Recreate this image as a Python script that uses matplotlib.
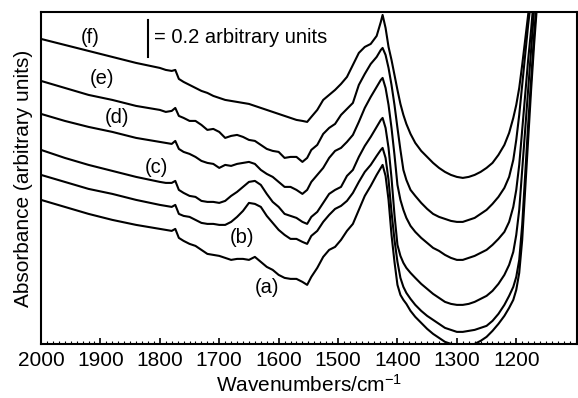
import matplotlib
matplotlib.use("Agg")
import matplotlib.pyplot as plt
from matplotlib.ticker import MultipleLocator

plt.rcParams['font.family'] = ['Liberation Sans', 'DejaVu Sans']
plt.rcParams['mathtext.fontset'] = 'custom'
plt.rcParams['mathtext.rm'] = 'Liberation Sans'
plt.rcParams['mathtext.it'] = 'Liberation Sans'

# Wavenumber grid (cm^-1)
wavenumbers = [2000, 1960, 1920, 1880, 1840, 1800,
               1790, 1780, 1774, 1768, 1760, 1750, 1740, 1730, 1720, 1710,
               1700, 1690, 1680, 1670, 1660, 1650, 1640, 1630, 1620, 1610,
               1600, 1590, 1580, 1570, 1560, 1552, 1545, 1535, 1525, 1515,
               1505, 1495, 1485, 1475, 1465, 1455, 1445,
               1435, 1428, 1425, 1420, 1415, 1410, 1405, 1400, 1395, 1390,
               1385, 1378, 1370, 1360, 1350, 1340, 1330, 1320, 1310, 1300,
               1290, 1280, 1270, 1260, 1250, 1240, 1230, 1220, 1212, 1205,
               1200, 1195, 1190, 1185, 1180, 1175, 1170, 1160]

# Absorbance (arbitrary units; 37 = 0.2 units), stacked spectra
spec_f = [305, 299, 293, 287, 281, 276, 274, 273, 274, 265, 262, 259, 256, 253, 251, 248,
          246, 244, 243, 242, 241, 240, 238, 236, 234, 232, 230, 228, 226, 224, 223, 222,
          227, 234, 244, 249, 254, 260, 267, 279, 291, 297, 300,
          308, 322, 329, 316, 297, 284, 269, 254, 240, 229,
          220, 210, 201, 193, 187, 181, 176, 172, 169, 167,
          166, 167, 169, 172, 176, 181, 189, 199, 211, 226,
          239, 256, 279, 304, 329, 354, 384, 444]
spec_e = [263, 256, 249, 244, 238, 234, 232, 233, 236, 228, 226, 223, 223, 219, 214, 215,
          212, 206, 208, 209, 207, 204, 203, 199, 195, 193, 192, 186, 187, 187, 182, 186,
          194, 199, 210, 216, 220, 229, 235, 241, 259, 270, 280,
          287, 294, 296, 289, 276, 259, 239, 216, 194, 174,
          164, 154, 148, 141, 135, 130, 127, 125, 123, 122,
          122, 124, 126, 130, 134, 140, 147, 156, 167, 184,
          204, 229, 259, 289, 319, 344, 374, 444]
spec_d = [230, 223, 217, 212, 206, 202, 201, 200, 203, 195, 192, 190, 187, 183, 181, 180,
          176, 179, 178, 180, 181, 182, 180, 174, 170, 167, 162, 157, 157, 154, 150, 154,
          162, 169, 176, 186, 193, 196, 202, 209, 222, 236, 247,
          257, 264, 266, 256, 239, 216, 189, 159, 144, 134,
          126, 118, 112, 106, 101, 96, 93, 89, 86, 84,
          84, 86, 88, 91, 94, 99, 105, 112, 122, 137,
          154, 179, 214, 249, 284, 314, 349, 424]
spec_c = [194, 186, 179, 173, 167, 162, 161, 161, 163, 154, 151, 148, 147, 143, 142, 142,
          141, 143, 148, 152, 157, 162, 163, 159, 150, 142, 137, 130, 128, 126, 122, 120,
          127, 132, 141, 150, 154, 157, 168, 174, 187, 198, 207,
          217, 224, 226, 216, 196, 166, 129, 99, 88, 81,
          76, 71, 66, 60, 55, 50, 46, 42, 40, 39,
          39, 40, 42, 45, 48, 53, 60, 69, 79, 92,
          109, 134, 174, 214, 254, 294, 334, 414]
spec_b = [169, 162, 155, 150, 144, 139, 138, 137, 139, 130, 128, 127, 124, 121, 120, 120,
          119, 119, 122, 127, 133, 141, 140, 137, 128, 121, 114, 109, 105, 105, 102, 100,
          108, 113, 122, 129, 135, 138, 143, 151, 162, 172, 179,
          188, 194, 196, 186, 164, 132, 104, 82, 66, 57,
          51, 45, 39, 33, 28, 24, 20, 16, 14, 12,
          12, 13, 14, 16, 18, 23, 30, 39, 48, 57,
          67, 84, 119, 169, 219, 264, 309, 384]
spec_a = [144, 137, 130, 124, 119, 115, 114, 113, 115, 106, 103, 100, 98, 94, 90, 89,
          88, 86, 84, 85, 85, 84, 87, 82, 77, 74, 69, 66, 65, 65, 62, 59,
          67, 76, 87, 94, 97, 104, 113, 120, 134, 148, 158,
          169, 176, 179, 168, 144, 109, 82, 59, 49, 44,
          40, 33, 27, 21, 15, 10, 6, 2, 0, -2,
          -3, -2, 0, 3, 7, 13, 20, 28, 36, 44,
          54, 71, 104, 154, 204, 254, 299, 379]

spectra = [spec_a, spec_b, spec_c, spec_d, spec_e, spec_f]
labels = ['(a)', '(b)', '(c)', '(d)', '(e)', '(f)']
label_wn = [1620, 1662, 1805, 1872, 1897, 1918]
label_y = [56, 106, 176, 226, 265, 306]

xticks = [2000, 1900, 1800, 1700, 1600, 1500, 1400, 1300, 1200]

fig = plt.figure(figsize=(5.78, 3.98), dpi=100)
ax = fig.add_axes([0.071, 0.136, 0.927, 0.834])

for s in spectra:
    ax.plot(wavenumbers, s, color='black', lw=1.5, solid_joinstyle='round')

for lab, xw, yv in zip(labels, label_wn, label_y):
    ax.text(xw, yv, lab, fontsize=14.5, ha='center', va='center')

# scale bar: 0.2 arbitrary units
ax.plot([1820, 1820], [287, 324], color='black', lw=1.5)
ax.text(1810, 306, '= 0.2 arbitrary units', fontsize=14.5, ha='left', va='center')

ax.set_xlim(2000, 1098)
ax.set_ylim(0, 332)
ax.set_xticks(xticks)
ax.xaxis.set_minor_locator(MultipleLocator(10))
ax.set_yticks([])
ax.tick_params(axis='x', which='major', direction='in', length=4, width=1.2,
               labelsize=15, pad=5)
ax.tick_params(axis='x', which='minor', direction='in', length=2, width=0.8)
for sp in ax.spines.values():
    sp.set_linewidth(1.5)

ax.set_xlabel('Wavenumbers/cm$^{-1}$', fontsize=15, labelpad=3)
ax.set_ylabel('Absorbance (arbitrary units)', fontsize=15, labelpad=6)

fig.savefig('out.png', dpi=100)
